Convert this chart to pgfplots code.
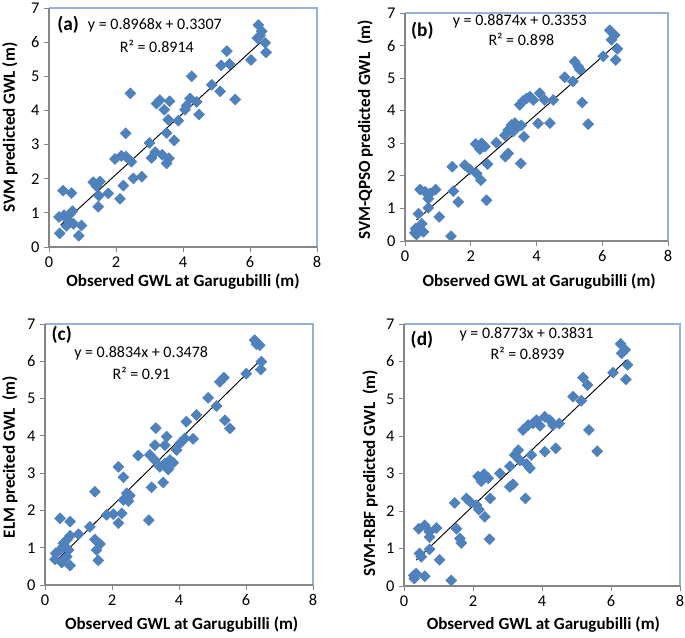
\documentclass[border=0pt]{standalone}
\usepackage{fontspec}
\setmainfont{Carlito}
\usepackage{pgfplots}
\pgfplotsset{compat=1.18}
\definecolor{mblue}{HTML}{4F81BD}
\definecolor{axgrey}{HTML}{868686}
\definecolor{bordblue}{HTML}{95B3D7}
\pgfplotsset{
 panel/.style={
  scale only axis, xmin=0,xmax=8,ymin=0,ymax=7,
  xtick={0,2,4,6,8}, ytick={0,1,2,3,4,5,6,7},
  tick align=outside, xtick pos=bottom, ytick pos=left,
  major tick length=3.6pt,
  every tick/.style={axgrey, line width=0.6pt},
  axis line style={draw=none},
  tick label style={font=\fontsize{12.3}{14}\selectfont, text=black},
  /pgf/number format/assume math mode=true,
  label style={font=\bfseries\fontsize{12.8}{15}\selectfont},
  xlabel={Observed GWL at Garugubilli (m)},
  after end axis/.code={
    \draw[bordblue, line width=0.8pt] (rel axis cs:0,1) -- (rel axis cs:1,1) -- (rel axis cs:1,0);
    \draw[axgrey, line width=0.8pt] (rel axis cs:0,1) -- (rel axis cs:0,0) -- (rel axis cs:1,0);
  },
 },
 pts/.style={only marks, mark=square*, mark size=2.9pt, mark options={rotate=45, fill=mblue, draw=mblue}},
 fit/.style={black, line width=0.7pt, no marks},
}
\newcommand{\eqfont}{\fontsize{12}{14}\selectfont}
\newcommand{\tagfont}{\bfseries\fontsize{14.5}{16}\selectfont}

\pgfplotstableread{
x y
0.32 0.40
0.30 0.88
0.45 0.93
0.62 0.96
0.42 1.65
0.67 1.58
0.70 1.05
0.57 0.78
0.52 0.62
0.73 0.68
0.97 0.63
0.89 0.33
1.32 1.90
1.52 1.92
1.47 1.18
1.49 1.50
1.42 1.78
1.77 1.57
2.12 1.41
2.22 1.80
1.97 2.58
2.16 2.67
2.29 2.65
2.29 3.33
2.46 2.50
2.43 4.50
2.52 2.01
2.77 2.06
3.00 3.05
3.06 2.61
3.17 2.78
3.21 4.20
3.31 4.30
3.38 2.70
3.44 4.02
3.51 3.34
3.51 2.45
3.56 3.73
3.60 4.27
3.58 2.60
3.74 3.12
3.86 3.70
4.06 4.02
4.11 4.14
4.21 4.35
4.26 5.00
4.41 4.25
4.48 3.88
4.86 4.75
5.11 4.56
5.14 5.32
5.31 5.74
5.39 5.36
5.56 4.32
6.03 5.48
6.25 6.50
6.22 6.12
6.35 6.32
6.45 5.98
6.48 5.70
6.30 6.20
}\dataA

\pgfplotstableread{
x y
0.30 0.25
0.35 0.20
0.32 0.38
0.56 0.28
0.51 0.53
0.41 0.84
0.46 1.58
0.61 1.51
0.71 1.30
0.76 1.46
0.93 1.58
0.71 1.02
1.04 0.74
1.40 0.15
1.44 2.28
1.47 1.53
1.62 1.20
1.82 2.33
1.97 2.20
2.18 2.07
2.15 2.98
2.28 2.82
2.31 1.87
2.33 3.00
2.43 2.90
2.51 2.36
2.48 1.25
2.78 3.02
3.05 2.59
3.14 2.69
3.04 3.25
3.14 3.41
3.24 3.56
3.29 3.36
3.34 3.62
3.44 3.51
3.49 4.18
3.54 3.55
3.59 4.30
3.62 3.20
3.52 2.38
3.70 4.38
3.80 4.43
3.90 4.33
4.10 4.54
4.05 3.61
4.25 4.33
4.41 3.62
4.51 4.33
4.86 5.03
5.11 4.90
5.16 5.51
5.27 5.36
5.32 5.26
5.39 4.25
5.57 3.59
6.03 5.67
6.23 6.47
6.28 6.18
6.38 6.32
6.46 5.90
6.41 5.56
}\dataB

\pgfplotstableread{
x y
0.30 0.69
0.32 0.85
0.45 0.94
0.55 1.03
0.50 0.60
0.65 0.76
0.75 0.52
0.45 1.79
0.75 1.70
0.65 1.21
0.75 1.32
1.00 1.36
0.70 0.94
0.55 1.12
1.34 1.56
1.49 2.50
1.49 1.22
1.54 0.94
1.64 1.10
1.59 0.66
1.84 1.88
2.04 1.90
2.19 1.66
2.19 3.17
2.34 2.89
2.29 1.92
2.34 2.28
2.44 2.46
2.53 2.40
2.49 2.25
2.78 3.47
3.13 3.49
3.18 2.62
3.10 1.74
3.28 3.35
3.31 4.21
3.28 3.75
3.43 3.17
3.53 2.75
3.58 3.26
3.58 3.75
3.63 3.98
3.68 3.10
3.73 3.35
3.83 3.28
3.93 3.62
4.03 3.80
4.17 3.93
4.22 4.38
4.42 3.92
4.52 4.56
4.87 5.02
5.12 4.80
5.22 5.45
5.34 5.56
5.37 4.42
5.52 4.20
6.01 5.67
6.26 6.57
6.31 6.46
6.41 6.43
6.46 5.99
6.44 5.78
}\dataC

\pgfplotstableread{
x y
0.30 0.20
0.35 0.33
0.28 0.28
0.60 0.26
0.45 0.87
0.50 0.78
0.43 1.53
0.60 1.62
0.74 1.45
0.74 1.31
0.94 1.55
0.74 0.98
1.03 0.70
1.37 0.15
1.47 2.22
1.52 1.53
1.62 1.27
1.66 1.15
1.81 2.34
1.91 2.25
2.10 2.16
2.17 2.04
2.15 2.93
2.24 2.80
2.32 2.99
2.44 2.88
2.34 1.85
2.50 2.34
2.48 1.25
2.78 3.01
3.07 2.65
3.16 2.72
3.07 3.20
3.21 3.50
3.31 3.63
3.36 3.36
3.45 4.17
3.55 3.26
3.52 2.34
3.60 4.30
3.65 3.15
3.69 3.50
3.74 4.35
3.84 4.43
3.94 4.28
4.08 4.52
4.08 3.59
4.23 4.43
4.32 4.30
4.40 3.68
4.50 4.34
4.90 5.06
5.14 4.95
5.19 5.57
5.32 5.37
5.36 4.17
5.60 3.60
6.06 5.70
6.28 6.47
6.31 6.22
6.41 6.31
6.48 5.91
6.43 5.52
}\dataD

\begin{document}
\begin{tikzpicture}
\useasboundingbox (0,0) rectangle (513.75pt,-477.75pt);

% (a)
\begin{axis}[panel, at={(36.75pt,-185.25pt)}, anchor=south west,
  width=201pt, height=179.25pt,
  ylabel={SVM predicted GWL (m)},
  ylabel style={at={(axis description cs:-0.146,0.5)}, anchor=center},
  xlabel style={at={(axis description cs:0.5,-0.146)}, anchor=center}]
\addplot[pts] table[x=x,y=y] {\dataA};
\addplot[fit] coordinates {(0.35,0.6446) (6.45,6.1151)};
\node[font=\tagfont] at (axis cs:0.57,6.5) {(a)};
\node[font=\eqfont] at (axis cs:3.16,6.48) {y = 0.8968x + 0.3307};
\node[font=\eqfont] at (axis cs:3.22,5.89) {R² = 0.8914};
\end{axis}

% (b)
\begin{axis}[panel, at={(303.75pt,-180.75pt)}, anchor=south west,
  width=197.25pt, height=171pt,
  ylabel={SVM-QPSO predicted GWL\ \ (m)},
  ylabel style={at={(axis description cs:-0.152,0.487)}, anchor=center},
  xlabel style={at={(axis description cs:0.51,-0.18)}, anchor=center}]
\addplot[pts] table[x=x,y=y] {\dataB};
\addplot[fit] coordinates {(0.35,0.6459) (6.45,6.0590)};
\node[font=\tagfont] at (axis cs:0.53,6.44) {(b)};
\node[font=\eqfont] at (axis cs:3.49,6.76) {y = 0.8874x + 0.3353};
\node[font=\eqfont] at (axis cs:3.54,6.18) {R² = 0.898};
\end{axis}

% (c)
\begin{axis}[panel, at={(33.75pt,-438.75pt)}, anchor=south west,
  width=201pt, height=195.75pt,
  ylabel={ELM precited GWL\ \ (m)},
  ylabel style={at={(axis description cs:-0.131,0.49)}, anchor=center},
  xlabel style={at={(axis description cs:0.51,-0.153)}, anchor=center}]
\addplot[pts] table[x=x,y=y] {\dataC};
\addplot[fit] coordinates {(0.35,0.6570) (6.45,6.0457)};
\node[font=\tagfont] at (axis cs:0.50,6.70) {(c)};
\node[font=\eqfont] at (axis cs:2.87,6.21) {y = 0.8834x + 0.3478};
\node[font=\eqfont] at (axis cs:2.88,5.67) {R² = 0.91};
\end{axis}

% (d)
\begin{axis}[panel, at={(303pt,-439.5pt)}, anchor=south west,
  width=207pt, height=196.5pt,
  ylabel={SVM-RBF predicted GWL\ \ (m)},
  ylabel style={at={(axis description cs:-0.123,0.43)}, anchor=center},
  xlabel style={at={(axis description cs:0.505,-0.149)}, anchor=center}]
\addplot[pts] table[x=x,y=y] {\dataD};
\addplot[fit] coordinates {(0.35,0.6902) (6.45,6.0417)};
\node[font=\tagfont] at (axis cs:0.52,6.57) {(d)};
\node[font=\eqfont] at (axis cs:3.55,6.73) {y = 0.8773x + 0.3831};
\node[font=\eqfont] at (axis cs:3.58,6.22) {R² = 0.8939};
\end{axis}
\end{tikzpicture}
\end{document}
